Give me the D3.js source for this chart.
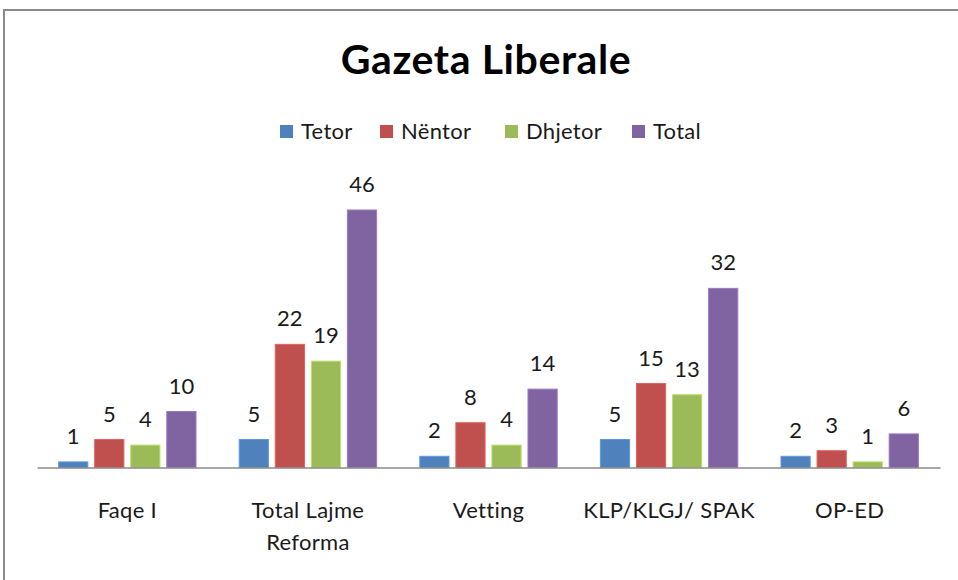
<!DOCTYPE html>
<html>
<head>
<meta charset="utf-8">
<script src="https://cdn.jsdelivr.net/npm/d3@7"></script>
<style>
  body { margin: 0; background: #fff; }
  svg text { font-family: Lato, "Open Sans", sans-serif; fill: #1a1a1a; }
</style>
</head>
<body>
<div class="container"></div>
<script>
// data
const categories = ["Faqe I", "Total Lajme Reforma", "Vetting", "KLP/KLGJ/ SPAK", "OP-ED"];
const series = ["Tetor", "Nëntor", "Dhjetor", "Total"];
const tetor = [1, 5, 2, 5, 2];
const nentor = [5, 22, 8, 15, 3];
const dhjetor = [4, 19, 4, 13, 1];
const total = [10, 46, 14, 32, 6];
const colors = ["#4F81BD", "#C0504D", "#9BBB59", "#8064A2"];

const values = [tetor, nentor, dhjetor, total];
const rows = categories.map((c, i) => ({
    category: c,
    items: series.map((s, j) => ({ key: s, value: values[j][i] }))
}));

const width = 958, height = 580;

const svg = d3.select(".container")
    .append("svg")
    .attr("width", width)
    .attr("height", height);

// chart frame
svg.append("rect")
    .attr("x", 4)
    .attr("y", 10)
    .attr("width", 970)
    .attr("height", 600)
    .attr("fill", "none")
    .attr("stroke", "#8a8a8a")
    .attr("stroke-width", 2);

// title
svg.append("text")
    .attr("x", 486)
    .attr("y", 74)
    .attr("text-anchor", "middle")
    .style("font-size", "41px")
    .style("font-weight", "bold")
    .style("letter-spacing", "0.6px")
    .style("fill", "#000")
    .text("Gazeta Liberale");

// scales
const plotLeft = 37, plotRight = 940, baseline = 467.5;

const x0 = d3.scaleBand()
    .domain(categories)
    .range([plotLeft, plotRight])
    .padding(0);

const x1 = d3.scaleBand()
    .domain(series)
    .range([21.6, x0.bandwidth() - 21.6])
    .paddingInner(0.19)
    .paddingOuter(0);

const y = d3.scaleLinear()
    .domain([0, 50])
    .range([baseline, baseline - 50 * 5.598]);

const color = d3.scaleOrdinal()
    .domain(series)
    .range(colors);

// bars
const groups = svg.append("g")
    .selectAll("g")
    .data(rows)
    .enter()
    .append("g")
    .attr("transform", d => `translate(${x0(d.category)}, 0)`);

groups.selectAll("rect")
    .data(d => d.items)
    .enter()
    .append("rect")
    .attr("x", d => x1(d.key))
    .attr("y", d => y(d.value))
    .attr("width", x1.bandwidth())
    .attr("height", d => y(0) - y(d.value))
    .attr("fill", d => color(d.key))
    .attr("stroke", d => d3.color(color(d.key)).brighter(0.5))
    .attr("stroke-width", 1);

// value labels
groups.selectAll("text")
    .data(d => d.items)
    .enter()
    .append("text")
    .attr("x", d => x1(d.key) + x1.bandwidth() / 2)
    .attr("y", d => y(d.value) - 18)
    .attr("text-anchor", "middle")
    .style("font-size", "22px")
    .text(d => d.value);

// x axis
const xAxis = d3.axisBottom(x0).tickSize(0).tickFormat("");
const axisG = svg.append("g")
    .attr("transform", `translate(0, ${baseline})`)
    .call(xAxis);
axisG.select(".domain")
    .attr("stroke", "#8a8a8a")
    .attr("stroke-width", 1.5);

// category labels, wrapped like the original
const wrapped = {
    "Total Lajme Reforma": ["Total Lajme", "Reforma"]
};
const catLabels = svg.append("g")
    .selectAll("text")
    .data(categories)
    .enter()
    .append("text")
    .attr("x", d => x0(d) + x0.bandwidth() / 2)
    .attr("y", 518)
    .attr("text-anchor", "middle")
    .style("font-size", "22px")
    .style("letter-spacing", "0.3px");

catLabels.each(function(d) {
    const lines = wrapped[d] || [d];
    const t = d3.select(this);
    lines.forEach((line, i) => {
        t.append("tspan")
            .attr("x", x0(d) + x0.bandwidth() / 2)
            .attr("dy", i === 0 ? 0 : 32)
            .text(line);
    });
});

// legend
const legendX = [280, 380, 505, 632];
const legend = svg.append("g")
    .selectAll("g")
    .data(series)
    .enter()
    .append("g")
    .attr("transform", (d, i) => `translate(${legendX[i]}, 125)`);

legend.append("rect")
    .attr("width", 13)
    .attr("height", 13)
    .attr("fill", d => color(d));

legend.append("text")
    .attr("x", 21)
    .attr("y", 14)
    .style("font-size", "22px")
    .style("letter-spacing", "0.3px")
    .text(d => d);
</script>
</body>
</html>
